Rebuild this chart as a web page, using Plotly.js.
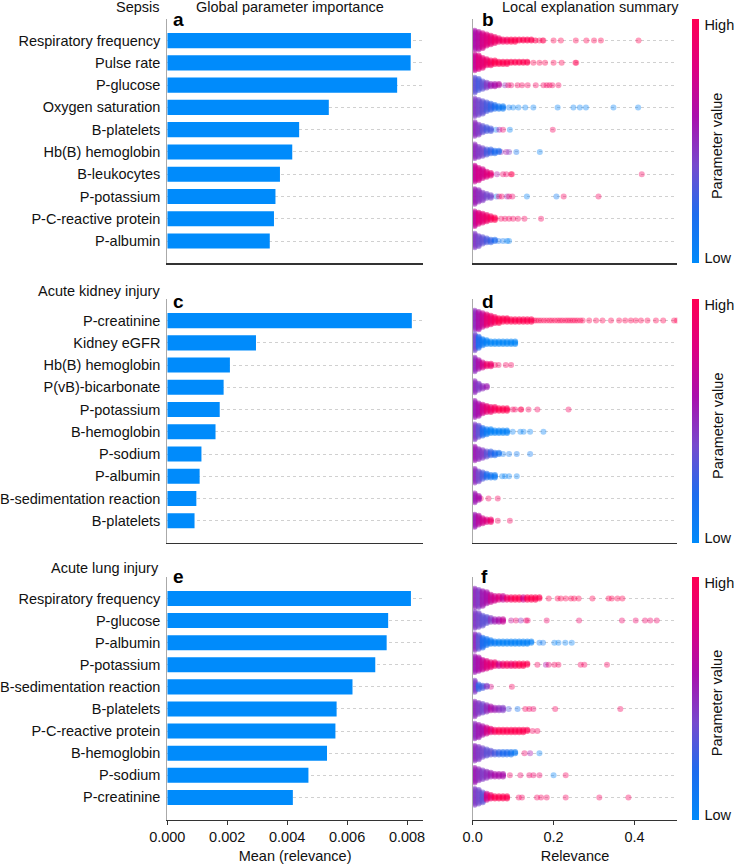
<!DOCTYPE html>
<html>
<head>
<meta charset="utf-8">
<script src="https://cdn.plot.ly/plotly-3.0.1.min.js"></script>
<style>html,body{margin:0;padding:0;background:#fff;}#chart{width:734px;height:865px;}</style>
</head>
<body>
<div id="chart"></div>
<script>
// ---------------- DATA ----------------
const sepsisFeatures = ["Respiratory frequency","Pulse rate","P-glucose","Oxygen saturation","B-platelets","Hb(B) hemoglobin","B-leukocytes","P-potassium","P-C-reactive protein","P-albumin"];
const sepsisMean = [0.00813,0.00812,0.00767,0.00539,0.0044,0.00417,0.00376,0.00361,0.00356,0.00342];
// dense core: counts of points per 0.01-wide relevance bin, and their colour (0 = low, 1 = high)
const sepsisCoreCount = [
  [16,15,13,10,8,6,4,3,3,3,3,2,2,2,2,1],
  [14,12,9,6,5,4,3,3,3,2,2,2,2,2],
  [13,10,7,5,3,3,2],
  [15,13,11,8,6,4,3,3],
  [12,9,6,4,3],
  [12,9,7,5,4,3,2],
  [14,11,8,5,3],
  [13,10,7,4,3],
  [13,10,8,6,4,3],
  [12,9,6,4,3,2]
];
const sepsisCoreColor = [
  [0.6,0.65,0.75,0.8,0.85,0.9,0.9,0.95,0.95,1,1,1,1,1,1,1],
  [0.7,0.8,0.85,0.9,0.95,1,1,1,1,1,1,1,1,1],
  [0.35,0.3,0.35,0.45,0.55,0.6,0.65],
  [0.45,0.4,0.35,0.3,0.25,0.2,0.15,0.1],
  [0.5,0.45,0.35,0.3,0.3],
  [0.5,0.45,0.4,0.3,0.25,0.2,0.2],
  [0.7,0.75,0.75,0.8,0.85],
  [0.55,0.5,0.45,0.4,0.4],
  [0.7,0.8,0.85,0.9,0.95,1],
  [0.45,0.4,0.35,0.3,0.25,0.2]
];
// individual sparse points
const sepsisDotX = [
  [0.165,0.173,0.175,0.2,0.218,0.255,0.281,0.3,0.317,0.41],
  [0.15,0.165,0.179,0.2,0.22,0.254,0.256],
  [0.08,0.088,0.095,0.111,0.122,0.136,0.156,0.175,0.183,0.19,0.197,0.212],
  [0.09,0.1,0.113,0.13,0.15,0.21,0.249,0.265,0.28,0.348,0.409],
  [0.058,0.066,0.075,0.092,0.198],
  [0.07,0.083,0.09,0.108,0.166],
  [0.06,0.075,0.083,0.095,0.097,0.418],
  [0.059,0.065,0.072,0.085,0.09,0.098,0.134,0.207,0.225,0.311],
  [0.07,0.08,0.09,0.1,0.112,0.128,0.169],
  [0.064,0.075,0.085,0.09]
];
const sepsisDotColor = [
  [1,1,1,1,1,1,1,1,1,1],
  [1,1,1,1,1,1,1],
  [0.5,0.9,0.9,0.95,0.95,0.95,0.95,0.95,0.95,0.95,0.95,0.95],
  [0.1,0.05,0.05,0.05,0.05,0.05,0.05,0.05,0.05,0.05,0.05],
  [0.1,0.6,0.9,0.05,0.95],
  [0.5,0.6,0.45,0.15,0.05],
  [0.6,0.9,0.9,1,1,0.95],
  [0.15,0.9,0.9,0.5,0.9,0.9,0.05,0.1,0.95,0.95],
  [0.95,0.95,0.95,0.95,0.95,0.95,0.95],
  [0.15,0.1,0.05,0.05]
];

const akiFeatures = ["P-creatinine","Kidney eGFR","Hb(B) hemoglobin","P(vB)-bicarbonate","P-potassium","B-hemoglobin","P-sodium","P-albumin","B-sedimentation reaction","B-platelets"];
const akiMean = [0.00816,0.00296,0.00209,0.00188,0.00175,0.00161,0.00114,0.00108,0.00097,0.00091];
const akiCoreCount = [
  [16,15,12,10,8,6,5,4,4,3,3,3,3,3,3],
  [14,10,6,4,3,3,3,3,3,3,3],
  [12,8,5,3,3],
  [10,6,3,2],
  [14,11,8,6,5,4,3,3,3],
  [13,10,7,5,4,3,3,3,3],
  [12,9,7,5,4,3,2],
  [12,9,6,4,3,3],
  [8,4],
  [11,8,5,3,3]
];
const akiCoreColor = [
  [0.5,0.6,0.7,0.85,0.9,0.95,1,1,1,1,1,1,1,1,1],
  [0.4,0.2,0.1,0.05,0.03,0.03,0.03,0.03,0.03,0.03,0.03],
  [0.5,0.6,0.75,0.9,0.9],
  [0.5,0.45,0.5,0.55],
  [0.55,0.6,0.75,0.85,0.9,0.95,1,1,1],
  [0.45,0.35,0.2,0.1,0.05,0.05,0.05,0.05,0.05],
  [0.55,0.5,0.45,0.35,0.25,0.2,0.15],
  [0.5,0.4,0.3,0.2,0.15,0.1],
  [0.55,0.6],
  [0.55,0.65,0.75,0.8,0.9]
];
const akiDotX = [
  [0.152,0.157,0.163,0.169,0.176,0.183,0.19,0.196,0.203,0.21,0.216,0.222,0.229,0.235,0.241,0.247,0.253,0.259,0.266,0.272,0.288,0.305,0.321,0.342,0.362,0.377,0.391,0.403,0.416,0.432,0.453,0.471,0.498,0.505],
  [],
  [0.055,0.064,0.082,0.095],
  [],
  [0.099,0.105,0.119,0.12,0.138,0.16,0.237],
  [0.099,0.118,0.126,0.142,0.175],
  [0.075,0.09,0.109,0.142],
  [0.073,0.08,0.09,0.109],
  [0.02,0.039,0.062],
  [0.062,0.092]
];
const akiDotColor = [
  [1,1,1,1,1,1,1,1,1,1,1,1,1,1,1,1,1,1,1,1,1,1,1,1,1,1,1,1,1,1,1,1,1,1],
  [],
  [0.95,0.95,0.95,0.95],
  [],
  [0.95,0.95,1,1,0.95,0.95,0.95],
  [0.05,0.05,0.05,0.05,0.05],
  [0.1,0.1,0.1,0.1],
  [0.05,0.05,0.05,0.05],
  [0.95,0.95,0.95],
  [0.95,0.95]
];

const aliFeatures = ["Respiratory frequency","P-glucose","P-albumin","P-potassium","B-sedimentation reaction","B-platelets","P-C-reactive protein","B-hemoglobin","P-sodium","P-creatinine"];
const aliMean = [0.00813,0.00737,0.00732,0.00694,0.00618,0.00565,0.00561,0.00533,0.00471,0.00419];
const aliCoreCount = [
  [16,15,13,10,7,5,4,4,3,3,3,3,3,3,3,3,2],
  [14,12,9,6,4,3,3,3],
  [14,12,9,6,4,3,3,3,3,3,3,3,3,3,2],
  [14,12,9,7,5,4,3,3,3,3,3,3,3,2],
  [10,5,3,2],
  [13,10,8,6,4,3,3,3],
  [13,11,8,6,4,3,3,3,3,3,3,3,3,2],
  [13,11,8,6,4,3,3,3,3,3,2],
  [13,10,8,6,4,3,3,3],
  [14,12,9,6,4,3,3,3,3]
];
const aliCoreColor = [
  [0.5,0.45,0.55,0.6,0.7,0.75,0.8,0.7,0.9,0.95,1,1,0.75,1,1,1,1],
  [0.45,0.4,0.35,0.35,0.45,0.55,0.6,0.7],
  [0.5,0.35,0.2,0.15,0.1,0.08,0.06,0.05,0.05,0.05,0.05,0.05,0.05,0.05,0.05],
  [0.55,0.6,0.7,0.8,0.85,0.9,0.75,0.9,0.95,0.9,0.95,1,1,1],
  [0.45,0.25,0.3,0.45],
  [0.5,0.45,0.4,0.5,0.6,0.55,0.5,0.45],
  [0.5,0.55,0.6,0.75,0.85,0.95,1,1,1,1,1,1,1,1],
  [0.5,0.45,0.4,0.35,0.35,0.3,0.25,0.2,0.2,0.15,0.1],
  [0.55,0.5,0.45,0.5,0.55,0.6,0.6,0.6],
  [0.45,0.4,0.35,0.75,0.9,1,1,1,1]
];
const aliDotX = [
  [0.188,0.21,0.218,0.23,0.243,0.251,0.262,0.296,0.336,0.344,0.358,0.37],
  [0.095,0.107,0.119,0.132,0.136,0.183,0.263,0.369,0.403,0.426,0.439,0.455],
  [0.165,0.174,0.202,0.212,0.229,0.245],
  [0.16,0.181,0.188,0.202,0.212,0.267,0.276,0.332],
  [0.045,0.097],
  [0.089,0.111,0.13,0.14,0.15,0.204,0.365],
  [0.148,0.16],
  [0.128,0.142,0.165],
  [0.092,0.118,0.14,0.15,0.165,0.2,0.23],
  [0.114,0.122,0.159,0.169,0.183,0.23,0.313,0.385]
];
const aliDotColor = [
  [1,1,1,1,1,1,1,1,1,1,1,1],
  [0.7,0.9,0.5,0.9,0.9,0.9,0.9,0.9,0.9,0.9,0.9,0.9],
  [0.1,0.1,0.05,0.05,0.05,0.05],
  [0.95,0.6,0.9,0.95,0.95,0.95,0.95,0.95],
  [0.8,0.95],
  [0.3,0.15,0.95,0.95,0.9,0.95,0.95],
  [0.95,0.95],
  [0.9,0.6,0.05],
  [0.9,0.9,0.9,0.9,0.9,0.05,0.95],
  [0.95,0.95,0.95,0.95,0.95,0.95,0.95,0.95]
];

const meanTicks = [0, 0.002, 0.004, 0.006, 0.008];
const relTicks = [0, 0.2, 0.4];

// ---------------- STYLE / LAYOUT ----------------
const FONT = 'Liberation Sans, Arial, Helvetica, sans-serif';
const FS = 14.5;
const TXT = '#111';
const BAR = '#008bfb';
const CSCALE = [[0,'rgb(0,138,250)'],[0.2,'rgb(30,108,238)'],[0.4,'rgb(118,74,206)'],[0.6,'rgb(170,16,172)'],[0.8,'rgb(222,0,128)'],[1,'rgb(255,0,82)']];
const BIN = 0.01, STEP = 0.055;
const W = 734, H = 865;
const px2x = p => p / W, px2y = p => 1 - p / H;

const xLeft = [px2x(167.5), px2x(423.5)];
const xRight = [px2x(473.3), px2x(678.3)];
const rows = [
  {top:19, bot:263.3},
  {top:299, bot:543},
  {top:577, bot:819.5}
];
const YR = [10.0, -0.97];

function coreSwarm(coreCount, coreColor) {
  const x = [], y = [], c = [];
  coreCount.forEach((bins, r) => {
    bins.forEach((n, b) => {
      for (let k = 0; k < n; k++) {
        x.push((b + 0.5) * BIN);
        y.push(r + (k % 2 ? -1 : 1) * Math.ceil(k / 2) * STEP);
        c.push(coreColor[r][b]);
      }
    });
  });
  return {x, y, c};
}
function dotSwarm(dotX, dotColor) {
  const x = [], y = [], c = [];
  dotX.forEach((row, r) => row.forEach((v, j) => { x.push(v); y.push(r); c.push(dotColor[r][j]); }));
  return {x, y, c};
}

const panels = [
  {feat: sepsisFeatures, mean: sepsisMean, core: coreSwarm(sepsisCoreCount, sepsisCoreColor), dots: dotSwarm(sepsisDotX, sepsisDotColor)},
  {feat: akiFeatures, mean: akiMean, core: coreSwarm(akiCoreCount, akiCoreColor), dots: dotSwarm(akiDotX, akiDotColor)},
  {feat: aliFeatures, mean: aliMean, core: coreSwarm(aliCoreCount, aliCoreColor), dots: dotSwarm(aliDotX, aliDotColor)}
];

const data = [];
const layout = {
  width: W, height: H,
  margin: {l:0, r:0, t:0, b:0},
  paper_bgcolor: '#fff', plot_bgcolor: '#fff',
  showlegend: false,
  font: {family: FONT, size: FS, color: TXT},
  annotations: []
};

panels.forEach((p, i) => {
  const L = 2 * i + 1, R = 2 * i + 2;
  const idx = p.feat.map((_, k) => k);
  const last = i === 2;
  const dom = [px2y(rows[i].bot), px2y(rows[i].top)];
  const cbCenter = px2y((rows[i].top + rows[i].bot) / 2);
  const cbLen = (rows[i].bot - rows[i].top) / H;

  data.push({
    type: 'bar', orientation: 'h',
    x: p.mean, y: idx, width: 0.68,
    marker: {color: BAR, line: {width: 0}},
    xaxis: 'x' + L, yaxis: 'y' + L, hoverinfo: 'skip'
  });
  data.push({
    type: 'scatter', mode: 'markers',
    x: p.dots.x, y: p.dots.y,
    marker: {size: 6, opacity: 0.38, color: p.dots.c, cmin: 0, cmax: 1, colorscale: CSCALE, line: {width: 0}},
    xaxis: 'x' + R, yaxis: 'y' + R, hoverinfo: 'skip'
  });
  data.push({
    type: 'scatter', mode: 'markers',
    x: p.core.x, y: p.core.y,
    marker: {
      size: 6, opacity: 0.55, color: p.core.c, cmin: 0, cmax: 1,
      colorscale: CSCALE, line: {width: 0},
      showscale: true,
      colorbar: {
        x: px2x(692), xanchor: 'left', xref: 'paper',
        y: cbCenter, yanchor: 'middle', yref: 'paper',
        len: cbLen, lenmode: 'fraction',
        thickness: 6.5, thicknessmode: 'pixels',
        outlinewidth: 0, xpad: 0, ypad: 0,
        tickmode: 'array', tickvals: [0.02, 0.975], ticktext: ['Low', 'High'],
        ticks: 'outside', ticklen: 3, tickcolor: 'rgba(0,0,0,0)',
        tickfont: {family: FONT, size: FS, color: TXT},
        title: {text: ''}
      }
    },
    xaxis: 'x' + R, yaxis: 'y' + R, hoverinfo: 'skip'
  });

  const xl = 'xaxis' + L, yl = 'yaxis' + L, xr = 'xaxis' + R, yr = 'yaxis' + R;
  layout[xl] = {
    domain: xLeft, anchor: 'y' + L, range: [0, 0.00853],
    showgrid: false, zeroline: false, showline: true, linecolor: '#333', linewidth: 1.3,
    tickmode: 'array', tickvals: meanTicks, tickformat: '.3f',
    showticklabels: last, ticks: last ? 'outside' : '', ticklen: 4, tickcolor: '#333',
    tickfont: {size: FS}, automargin: false,
    title: last ? {text: 'Mean (relevance)', font: {size: FS}, standoff: 6} : {text: ''}
  };
  layout[yl] = {
    domain: dom, anchor: 'x' + L, range: YR,
    tickmode: 'array', tickvals: idx, ticktext: p.feat,
    showgrid: true, gridcolor: '#d0d0d0', griddash: 'dot', gridwidth: 1,
    zeroline: false, showline: true, linecolor: '#aaa', linewidth: 1,
    ticks: 'outside', ticklen: 3, tickcolor: 'rgba(0,0,0,0)',
    tickfont: {size: FS}, automargin: false
  };
  layout[xr] = {
    domain: xRight, anchor: 'y' + R, range: [0, 0.506],
    showgrid: false, zeroline: false, showline: true, linecolor: '#333', linewidth: 1.3,
    tickmode: 'array', tickvals: relTicks, tickformat: '.1f',
    showticklabels: last, ticks: last ? 'outside' : '', ticklen: 4, tickcolor: '#333',
    tickfont: {size: FS}, automargin: false,
    title: last ? {text: 'Relevance', font: {size: FS}, standoff: 6} : {text: ''}
  };
  layout[yr] = {
    domain: dom, anchor: 'x' + R, range: YR,
    tickmode: 'array', tickvals: idx, showticklabels: false,
    showgrid: true, gridcolor: '#d0d0d0', griddash: 'dot', gridwidth: 1,
    zeroline: false, showline: true, linecolor: '#aaa', linewidth: 1,
    ticks: '', automargin: false
  };

  layout.annotations.push({
    text: 'Parameter value', textangle: -90, xref: 'paper', yref: 'paper',
    x: px2x(718.7), y: cbCenter - 0.006, xanchor: 'center', yanchor: 'middle',
    showarrow: false, font: {size: FS, color: TXT}
  });
});

const notes = [
  {t: 'Sepsis', x: 162.5, y: 6.5, xa: 'right'},
  {t: 'Global parameter importance', x: 290.5, y: 6.5, xa: 'center'},
  {t: 'Local explanation summary', x: 591.7, y: 7, xa: 'center'},
  {t: 'Acute kidney injury', x: 162.5, y: 290.6, xa: 'right'},
  {t: 'Acute lung injury', x: 161.5, y: 568.2, xa: 'right'}
];
notes.forEach(n => layout.annotations.push({
  text: n.t, xref: 'paper', yref: 'paper', x: px2x(n.x), y: px2y(n.y),
  xanchor: n.xa, yanchor: 'middle', showarrow: false, font: {size: FS, color: TXT}
}));
const letters = [
  {t: 'a', x: 172.5, y: 20}, {t: 'b', x: 481.5, y: 20},
  {t: 'c', x: 172.5, y: 301.7}, {t: 'd', x: 481.5, y: 301.7},
  {t: 'e', x: 172.5, y: 576.7}, {t: 'f', x: 480.5, y: 576.7}
];
letters.forEach(n => layout.annotations.push({
  text: '<b>' + n.t + '</b>', xref: 'paper', yref: 'paper', x: px2x(n.x), y: px2y(n.y),
  xanchor: 'left', yanchor: 'middle', showarrow: false, xshift: -1,
  font: {size: 19, color: '#000', family: FONT}
}));

Plotly.newPlot('chart', data, layout, {staticPlot: true, displayModeBar: false});
</script>
</body>
</html>
